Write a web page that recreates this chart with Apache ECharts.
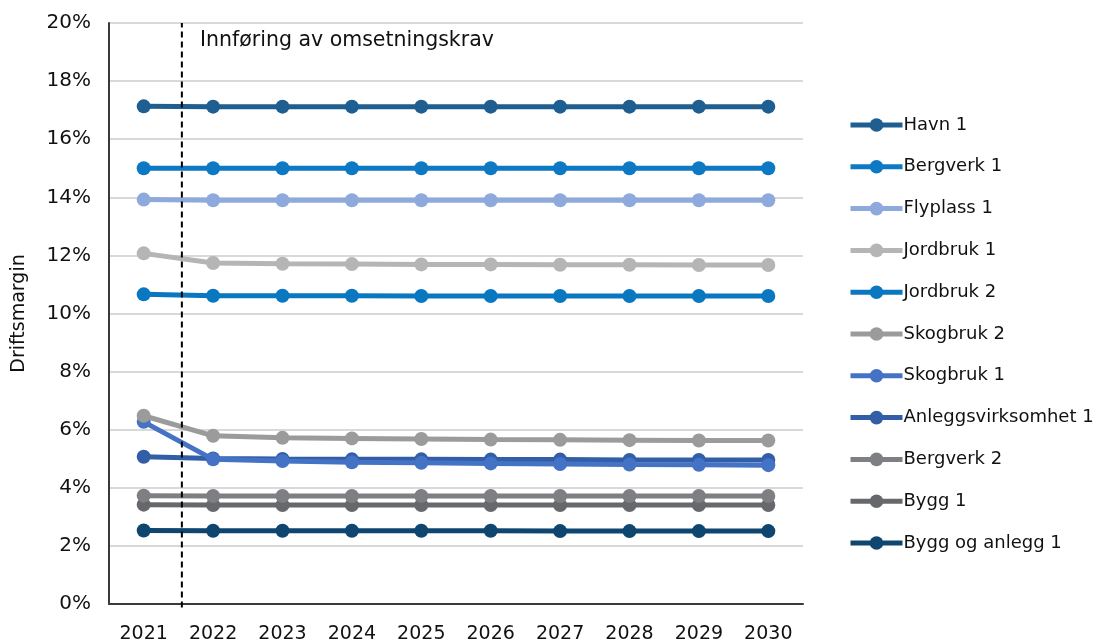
<!DOCTYPE html>
<html>
<head>
<meta charset="utf-8">
<script src="https://cdn.jsdelivr.net/npm/echarts@6/dist/echarts.min.js"></script>
<style>
  html, body { margin: 0; padding: 0; background: #fff; }
  #chart { width: 1096px; height: 644px; }
</style>
</head>
<body>
<div id="chart"></div>
<script>
// Years on the x axis
const years = ['2021', '2022', '2023', '2024', '2025', '2026', '2027', '2028', '2029', '2030'];

// Operating margin (%) per industry
const havn1        = [17.13, 17.12, 17.12, 17.12, 17.12, 17.12, 17.12, 17.12, 17.12, 17.12];
const bergverk1    = [15.00, 15.00, 15.00, 15.00, 15.00, 15.00, 15.00, 15.00, 15.00, 15.00];
const flyplass1    = [13.92, 13.90, 13.90, 13.90, 13.90, 13.90, 13.90, 13.90, 13.90, 13.90];
const jordbruk1    = [12.07, 11.74, 11.71, 11.70, 11.69, 11.69, 11.68, 11.68, 11.67, 11.67];
const jordbruk2    = [10.66, 10.61, 10.61, 10.61, 10.60, 10.60, 10.60, 10.60, 10.60, 10.60];
const skogbruk2    = [6.48, 5.79, 5.72, 5.70, 5.68, 5.66, 5.65, 5.64, 5.63, 5.63];
const skogbruk1    = [6.27, 4.98, 4.92, 4.88, 4.86, 4.84, 4.82, 4.80, 4.79, 4.78];
const anlegg1      = [5.07, 5.01, 4.99, 4.98, 4.98, 4.97, 4.97, 4.96, 4.96, 4.96];
const bergverk2    = [3.73, 3.72, 3.72, 3.72, 3.72, 3.72, 3.72, 3.72, 3.72, 3.72];
const bygg1        = [3.42, 3.41, 3.41, 3.41, 3.41, 3.41, 3.41, 3.41, 3.41, 3.41];
const byggAnlegg1  = [2.53, 2.52, 2.52, 2.52, 2.52, 2.52, 2.51, 2.51, 2.51, 2.51];

// Series names, values and colours in legend order
const seriesNames  = ['Havn 1', 'Bergverk 1', 'Flyplass 1', 'Jordbruk 1', 'Jordbruk 2', 'Skogbruk 2',
                      'Skogbruk 1', 'Anleggsvirksomhet 1', 'Bergverk 2', 'Bygg 1', 'Bygg og anlegg 1'];
const seriesValues = [havn1, bergverk1, flyplass1, jordbruk1, jordbruk2, skogbruk2,
                      skogbruk1, anlegg1, bergverk2, bygg1, byggAnlegg1];
const seriesColors = ['#1f5e91', '#0d78c3', '#8eaadc', '#b5b5b5', '#0a77c1', '#9b9b9b',
                      '#4472c4', '#315ea6', '#7e7f83', '#67686b', '#0e4670'];

// Y axis range and step (%)
const yMin = 0, yMax = 20, yStep = 2;

// Policy introduction marker: position between 2021 and 2022 (category index units)
const markerPos = 0.55;
const markerText = 'Innføring av omsetningskrav';

const FONT = 'DejaVu Sans';

const chart = echarts.init(document.getElementById('chart'), null, { renderer: 'canvas' });

const lineSeries = seriesNames.map((name, i) => ({
  name: name,
  type: 'line',
  xAxisIndex: 0,
  yAxisIndex: 0,
  data: seriesValues[i],
  symbol: 'circle',
  symbolSize: 14,
  lineStyle: { width: 5, color: seriesColors[i] },
  itemStyle: { color: seriesColors[i] },
  z: 20 - i,
  animation: false
}));

// dashed vertical marker drawn on a hidden numeric x axis that shares the category layout
const markerSeries = {
  name: 'marker',
  type: 'line',
  xAxisIndex: 1,
  yAxisIndex: 0,
  data: [[markerPos, -0.12], [markerPos, yMax]],
  symbol: 'none',
  clip: false,
  lineStyle: { color: '#000', width: 2, type: [6, 4] },
  z: 30,
  animation: false,
  silent: true
};

chart.setOption({
  backgroundColor: '#fff',
  animation: false,
  textStyle: { fontFamily: FONT },
  grid: { left: 109, right: 293, top: 23, bottom: 36, containLabel: false },
  legend: {
    data: seriesNames,
    orient: 'vertical',
    left: 843,
    top: 109,
    itemWidth: 52,
    itemHeight: 17,
    itemGap: 19.8,
    lineStyle: { width: 5 },
    textStyle: { fontFamily: FONT, fontSize: 18, color: '#111', lineHeight: 22, padding: [0, 0, 0, -4] },
    selectedMode: false
  },
  xAxis: [
    {
      type: 'category',
      data: years,
      boundaryGap: true,
      axisLine: { show: true, onZero: false, lineStyle: { color: '#3a3a3a', width: 2 } },
      axisTick: { show: false },
      axisLabel: { color: '#111', fontSize: 19, fontFamily: FONT, margin: 21 },
      splitLine: { show: false }
    },
    {
      type: 'value',
      min: -0.5,
      max: 9.5,
      show: false
    }
  ],
  yAxis: {
    type: 'value',
    min: yMin,
    max: yMax,
    interval: yStep,
    name: 'Driftsmargin',
    nameLocation: 'middle',
    nameGap: 80,
    nameRotate: 90,
    nameTextStyle: { color: '#111', fontSize: 19, fontFamily: FONT },
    axisLine: { show: true, onZero: false, lineStyle: { color: '#3a3a3a', width: 2 } },
    axisTick: { show: false },
    axisLabel: { formatter: '{value}%', color: '#111', fontSize: 20, fontFamily: FONT, margin: 18 },
    splitLine: { show: true, lineStyle: { color: '#d9d9d9', width: 2 } }
  },
  graphic: [
    {
      type: 'text',
      left: 200,
      top: 30,
      style: { text: markerText, fontFamily: FONT, fontSize: 20.5, fill: '#111' },
      z: 40
    }
  ],
  series: lineSeries.concat([markerSeries])
});
</script>
</body>
</html>
